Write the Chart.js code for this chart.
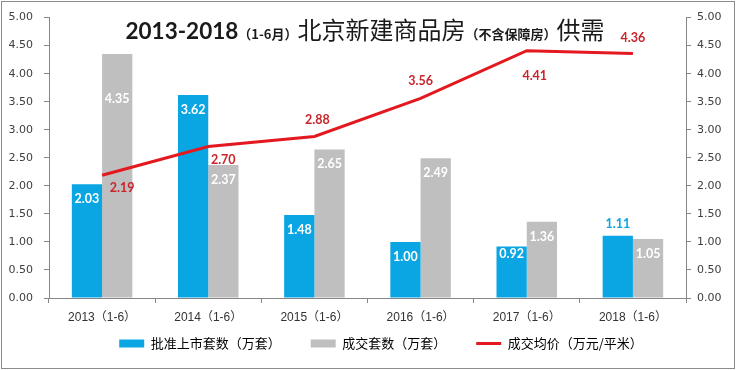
<!DOCTYPE html>
<html><head><meta charset="utf-8">
<script src="https://cdn.jsdelivr.net/npm/chart.js@4/dist/chart.umd.min.js"></script>
<style>
html,body{margin:0;padding:0;background:#fff;}
#wrap{position:relative;width:736px;height:370px;overflow:hidden;}
#title{position:absolute;left:-3px;top:11px;width:736px;text-align:center;white-space:nowrap;color:#1a1a1a;line-height:1;}
#title span{vertical-align:baseline;}
.t1{font:bold 22.5px Lato, "Liberation Sans", sans-serif;}
.t2{font:600 13px "Noto Sans CJK SC", sans-serif;}
.t3{font:400 24px "Noto Sans CJK SC", sans-serif;}
.t4{font:700 13px "Noto Sans CJK SC", sans-serif;}
</style></head>
<body><div id="wrap"><canvas id="c" width="736" height="370"></canvas>
<div id="title"><span class="t1">2013-2018</span><span class="t2">（1-6月）</span><span class="t3">北京新建商品房</span><span class="t4">（不含保障房）</span><span class="t3">供需</span></div>
</div>
<script>
const categories = ['2013（1-6）', '2014（1-6）', '2015（1-6）', '2016（1-6）', '2017（1-6）', '2018（1-6）'];
const approvedUnits = [2.03, 3.62, 1.48, 1.00, 0.92, 1.11];
const soldUnits = [4.35, 2.37, 2.65, 2.49, 1.36, 1.05];
const avgPrice = [2.19, 2.70, 2.88, 3.56, 4.41, 4.36];
const yTickValues = [0, 0.5, 1, 1.5, 2, 2.5, 3, 3.5, 4, 4.5, 5];
const seriesNames = ['批准上市套数（万套）', '成交套数（万套）', '成交均价（万元/平米）'];

const BLUE = '#0AA6E4', GREY = '#BFBFBF', RED = '#E3191F', LABEL_RED = '#C8242A', AXIS = '#868686';

// label placement tweaks (pixels), kept separate from data
const lineLabelShift = [[20, 13], [15, 13], [3, -17], [0, -17], [8, 25], [0, -16]];
function barLabelShift(dsIndex, j) {
  if (dsIndex === 1 && j === 0) return 45;
  if (dsIndex === 0 && j === 5) return -12;
  if (dsIndex === 0 && j === 4) return 8;
  return 15;
}

const framePlugin = {
  id: 'frame',
  afterLayout(chart) {
    // nudge the centred legend slightly right, as in the reference
    if (chart.legend) { chart.legend.left += 13; chart.legend.right += 13; }
  },
  beforeDraw(chart) {
    // let the x tick labels extend below the (shortened) x-axis box
    if (chart.scales.x) chart.scales.x._computeLabelArea = () => undefined;
    const ctx = chart.ctx;
    ctx.save();
    ctx.fillStyle = '#fff';
    ctx.fillRect(0, 0, chart.width, chart.height);
    ctx.restore();
  },
  afterDraw(chart) {
    const ctx = chart.ctx;
    ctx.save();
    ctx.strokeStyle = '#8C8C8C';
    ctx.lineWidth = 1;
    ctx.strokeRect(1.5, 1.5, chart.width - 3, chart.height - 3);
    ctx.restore();
  }
};

const labelPlugin = {
  id: 'valueLabels',
  afterDatasetsDraw(chart) {
    const ctx = chart.ctx;
    ctx.save();
    ctx.font = 'bold 12.5px Lato, "Liberation Sans", sans-serif';
    ctx.textAlign = 'center';
    ctx.textBaseline = 'middle';
    chart.data.datasets.forEach((ds, i) => {
      const meta = chart.getDatasetMeta(i);
      meta.data.forEach((el, j) => {
        const s = ds.data[j].toFixed(2);
        let x = el.x, y = el.y, color = '#fff';
        if (ds.type === 'line') {
          x += lineLabelShift[j][0];
          y += lineLabelShift[j][1];
          color = LABEL_RED;
        } else {
          const d = barLabelShift(i, j);
          y += d;
          if (d < 0) color = BLUE;
        }
        ctx.fillStyle = color;
        ctx.fillText(s, x, y);
      });
    });
    ctx.restore();
  }
};

new Chart(document.getElementById('c'), {
  data: {
    labels: categories,
    datasets: [
      { type: 'bar', label: seriesNames[0], data: approvedUnits, backgroundColor: BLUE, borderWidth: 0, yAxisID: 'y', order: 2,
        barPercentage: 1, categoryPercentage: 0.57 },
      { type: 'bar', label: seriesNames[1], data: soldUnits, backgroundColor: GREY, borderWidth: 0, yAxisID: 'y', order: 2,
        barPercentage: 1, categoryPercentage: 0.57 },
      { type: 'line', label: seriesNames[2], data: avgPrice, borderColor: RED, backgroundColor: RED, borderWidth: 3,
        pointRadius: 0, tension: 0, yAxisID: 'y1', order: 1, pointStyle: 'line' }
    ]
  },
  options: {
    responsive: false,
    animation: false,
    layout: { padding: { top: 7, left: 0, right: 0, bottom: 10 } },
    plugins: {
      tooltip: { enabled: false },
      legend: {
        position: 'bottom',
        labels: {
          sort: (a, b) => a.datasetIndex - b.datasetIndex,
          usePointStyle: true,
          pointStyleWidth: 25,
          boxHeight: 8,
          padding: 30,
          color: '#333',
          font: { family: '"Noto Sans CJK SC", sans-serif', size: 13 },
          generateLabels(chart) {
            return chart.data.datasets.map((ds, i) => ({
              text: ds.label,
              fillStyle: ds.backgroundColor,
              strokeStyle: ds.type === 'line' ? RED : ds.backgroundColor,
              lineWidth: ds.type === 'line' ? 3 : 0,
              pointStyle: ds.type === 'line' ? 'line' : 'rect',
              datasetIndex: i,
              hidden: false
            }));
          }
        }
      }
    },
    scales: {
      x: {
        offset: true,
        afterFit(axis) { axis.height = 9; },
        grid: { offset: true, drawOnChartArea: false, drawTicks: true, tickLength: 5, color: AXIS },
        border: { color: AXIS },
        ticks: { color: '#333', padding: 7, font: { family: '"Liberation Sans", "Noto Sans CJK SC", sans-serif', size: 12 } }
      },
      y: {
        position: 'left', min: 0, max: 5,
        afterBuildTicks(axis) { axis.ticks = yTickValues.map(v => ({ value: v })); },
        afterFit(axis) { axis.width = 49; },
        grid: { drawOnChartArea: false, tickLength: 5, color: AXIS },
        border: { color: AXIS },
        ticks: { color: '#404040', padding: 11, font: { family: '"DejaVu Sans", sans-serif', size: 11 },
          callback: v => Number(v).toFixed(2) }
      },
      y1: {
        position: 'right', min: 0, max: 5,
        afterBuildTicks(axis) { axis.ticks = yTickValues.map(v => ({ value: v })); },
        afterFit(axis) { axis.width = 50; },
        grid: { drawOnChartArea: false, tickLength: 5, color: AXIS },
        border: { color: AXIS },
        ticks: { color: '#404040', padding: 6, font: { family: '"DejaVu Sans", sans-serif', size: 11 },
          callback: v => Number(v).toFixed(2) }
      }
    }
  },
  plugins: [framePlugin, labelPlugin]
});
</script>
</body></html>
